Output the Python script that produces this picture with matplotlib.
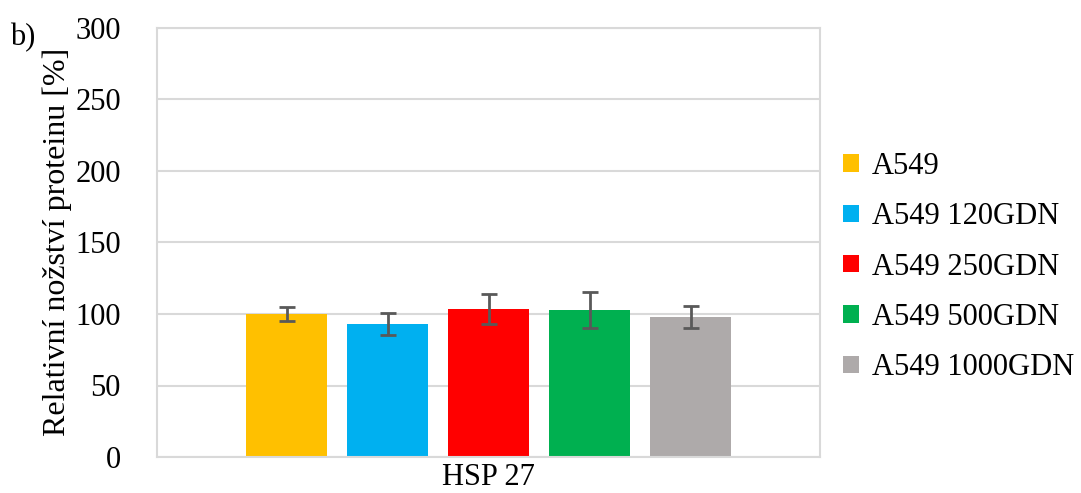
import matplotlib.pyplot as plt
import numpy as np

plt.rcParams['font.family'] = ['Liberation Serif', 'DejaVu Serif']

category = "HSP 27"
series = ["A549", "A549 120GDN", "A549 250GDN", "A549 500GDN", "A549 1000GDN"]
values = [100, 93, 103.5, 103, 98]
errors = [4.7, 7.6, 10.8, 12.6, 7.6]
colors = ["#FFC000", "#00B0F0", "#FF0000", "#00B050", "#AEAAAA"]

fig = plt.figure(figsize=(10.81, 4.93), dpi=100)
ax = fig.add_axes([157 / 1081, 36 / 493, 663 / 1081, 429 / 493])

bar_w = 81 / 663
step = 101 / 663
for i, (name, v, e, c) in enumerate(zip(series, values, errors, colors)):
    x = (i - 2) * step
    ax.bar(x, v, width=bar_w, color=c, label=name, zorder=2)
    ax.errorbar(x, v, yerr=e, fmt='none', ecolor='#595959', elinewidth=2,
                capsize=6, capthick=2, zorder=3)

ax.set_xlim(-0.5, 0.5)
ax.set_ylim(0, 300)
ax.set_yticks(range(0, 301, 50))
ax.set_xticks([0])
ax.set_xticklabels([category])
ax.tick_params(axis='both', length=0, labelsize=22)
ax.tick_params(axis='y', pad=26)
ax.tick_params(axis='x', pad=4)
ax.yaxis.grid(True, color='#d9d9d9', linewidth=1.5, zorder=0)
ax.set_axisbelow(True)
for s in ax.spines.values():
    s.set_color('#d9d9d9')
    s.set_linewidth(1.5)

fig.text(57 / 1081, 57 / 493, "Relativní nožství proteinu [%]", rotation=90,
         ha='center', va='bottom', fontsize=23)
fig.text(10 / 1081, 1 - 38 / 493, "b)", ha='left', va='center', fontsize=22)

leg = ax.legend(loc='upper left', bbox_to_anchor=(674 / 663, 0.74), frameon=False,
                fontsize=22, handlelength=0.5, handleheight=0.5, handletextpad=0.45,
                labelspacing=0.7, borderaxespad=0)

fig.savefig("out.png", dpi=100)
